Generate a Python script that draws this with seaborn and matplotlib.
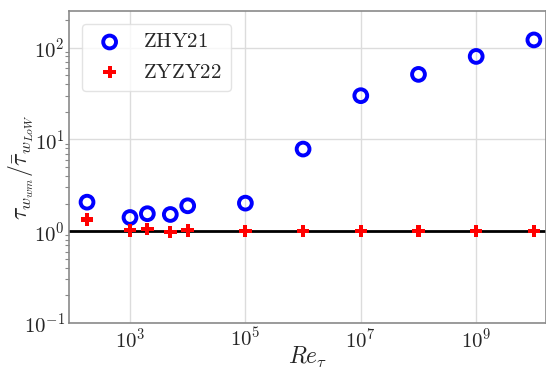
import numpy as np
import pandas as pd
import matplotlib
matplotlib.use("Agg")
import matplotlib.pyplot as plt
import seaborn as sns

# Friction Reynolds numbers and wall-stress ratios for the two models
re_tau = [180, 1e3, 2e3, 5e3, 1e4, 1e5, 1e6, 1e7, 1e8, 1e9, 1e10]
zhy21 = [2.07, 1.41, 1.55, 1.52, 1.89, 2.02, 7.84, 29.9, 51.0, 80.0, 121.0]
zyzy22 = [1.34, 1.02, 1.05, 0.98, 1.02, 1.01, 1.01, 1.01, 1.01, 1.01, 1.01]
series_names = ["ZHY21", "ZYZY22"]

sns.set_style("whitegrid")
plt.rcParams.update({
    "font.family": "serif",
    "font.serif": ["cmr10", "DejaVu Serif"],
    "mathtext.fontset": "cm",
    "axes.formatter.use_mathtext": True,
    "axes.unicode_minus": False,
})

df = pd.DataFrame({"re": re_tau, "zhy": zhy21, "zyzy": zyzy22})

fig = plt.figure(figsize=(5.46, 3.68), dpi=100)
ax = fig.add_axes([69 / 546, 1 - 323 / 368, (546 - 69) / 546, (323 - 11) / 368])

ax.axhline(1.0, color="black", lw=2, zorder=2)

sns.scatterplot(data=df, x="re", y="zhy", ax=ax, marker="o", s=85,
                facecolor="none", edgecolor="blue", linewidth=2.8,
                label=r"$\mathrm{%s}$" % series_names[0], zorder=3)
sns.scatterplot(data=df, x="re", y="zyzy", ax=ax, marker="P", s=80,
                color="red", edgecolor="none", linewidth=0,
                label=r"$\mathrm{%s}$" % series_names[1], zorder=3)

ax.set_xscale("log")
ax.set_yscale("log")
ax.set_xlim(10 ** 1.943, 10 ** 10.21)
ax.set_ylim(0.1, 250)
ax.set_xticks([1e3, 1e5, 1e7, 1e9])
ax.minorticks_off()
ax.yaxis.set_minor_locator(matplotlib.ticker.LogLocator(base=10, subs=np.arange(2, 10)))
ax.yaxis.set_minor_formatter(matplotlib.ticker.NullFormatter())

ax.grid(True, which="major", color="#dcdcdc", lw=1)
ax.grid(False, which="minor")
ax.tick_params(axis="both", which="major", length=0, labelsize=15, pad=3)
ax.tick_params(axis="y", which="minor", length=3, width=0.8, color="#888888", left=True)
for side in ["left", "bottom", "top", "right"]:
    ax.spines[side].set_color("#8a8a8a")
    ax.spines[side].set_linewidth(1.2)

ax.set_xlabel(r"$Re_\tau$", fontsize=17, labelpad=0)
ax.set_ylabel(r"$\tau_{w_{wm}}/\bar{\tau}_{w_{LoW}}$", fontsize=17, labelpad=0)
ax.xaxis.set_label_coords(0.5, -0.07)
ax.yaxis.set_label_coords(-0.07, 0.5)

leg = ax.legend(loc="upper left", fontsize=15, frameon=True, borderpad=0.45,
                handletextpad=0.7, handlelength=1.8, labelspacing=0.55,
                borderaxespad=0.6)
leg.get_frame().set_edgecolor("#dddddd")

fig.savefig("out.png", dpi=100)
